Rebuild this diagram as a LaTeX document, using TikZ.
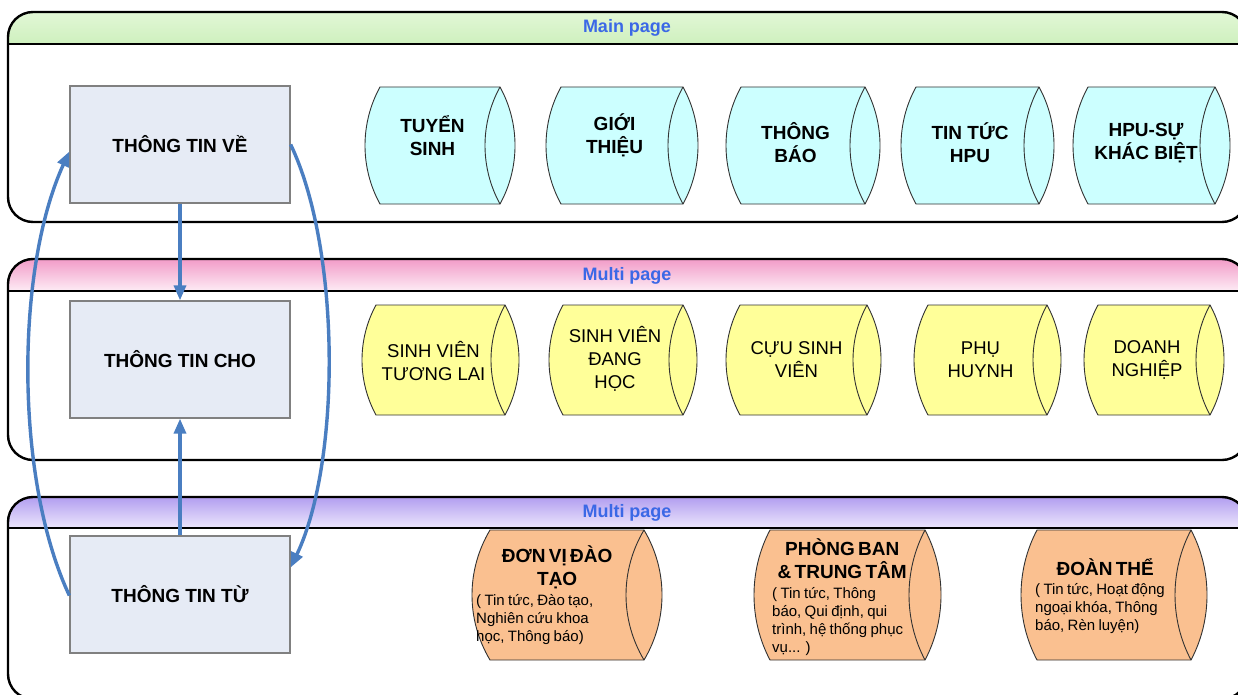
\documentclass[tikz,border=0pt]{standalone}
\usepackage{fontspec}
\setmainfont{Liberation Sans}
\usetikzlibrary{arrows.meta}
\definecolor{arrowblue}{RGB}{74,126,193}
\definecolor{hdrblue}{RGB}{59,104,230}
\definecolor{boxfill}{RGB}{230,235,245}
\definecolor{boxline}{RGB}{128,128,128}
\definecolor{cyanfill}{RGB}{204,255,255}
\definecolor{yelfill}{RGB}{255,255,153}
\definecolor{orfill}{RGB}{250,192,144}
\definecolor{cylgray}{RGB}{50,50,50}
\definecolor{greentop}{RGB}{226,247,214}
\definecolor{greenbot}{RGB}{206,240,190}
\definecolor{pinktop}{RGB}{242,156,200}
\definecolor{pinkbot}{RGB}{253,236,245}
\definecolor{purptop}{RGB}{178,158,240}
\definecolor{purpbot}{RGB}{236,230,252}
\newcommand\ttlfont{\bfseries\fontsize{19}{23}\selectfont}
\newcommand\dscfont{\fontsize{15}{18}\selectfont}
% horizontal cylinder with lens-shaped ends: L R T B r fill
\newcommand\hcyl[6]{%
  \filldraw[cylline, fill=#6] (#1,-#3) -- (#2,-#3)
    .. controls ({#2+4*#5/3},{-(#3+0.31*(#4-#3))}) and ({#2+4*#5/3},{-(#4-0.31*(#4-#3))}) .. (#2,-#4)
    -- (#1,-#4)
    .. controls ({#1-4*#5/3},{-(#4-0.31*(#4-#3))}) and ({#1-4*#5/3},{-(#3+0.31*(#4-#3))}) .. (#1,-#3) -- cycle;
  \draw[cylline] (#2,-#3)
    .. controls ({#2-4*#5/3},{-(#3+0.31*(#4-#3))}) and ({#2-4*#5/3},{-(#4-0.31*(#4-#3))}) .. (#2,-#4);
}
% panel: top, header line, bottom, top colour, bottom colour
\newcommand\panelbox[5]{%
  \begin{scope}
    \clip[rounded corners=25pt] (8,-#1) rectangle (1247,-#3);
    \shade[top color=#4, bottom color=#5] (8,-#1) rectangle (1247,-#2);
  \end{scope}
  \draw[panelline, rounded corners=25pt] (8,-#1) rectangle (1247,-#3);
  \draw[panelline] (8,-#2) -- (1247,-#2);
}
\tikzset{
  panelline/.style={line width=2.4pt, draw=black},
  hdr/.style={text=hdrblue, font=\bfseries\fontsize{18}{20}\selectfont, inner sep=0pt},
  infobox/.style={draw=boxline, line width=1.3pt, fill=boxfill, minimum width=220pt,
    minimum height=117pt, inner sep=0pt, font=\bfseries\fontsize{19}{23}\selectfont},
  cylline/.style={draw=cylgray, line width=0.9pt},
  ttop/.style={align=center, inner sep=0pt, font=\bfseries\fontsize{19}{23}\selectfont},
  tmid/.style={align=center, inner sep=0pt, font=\fontsize{18.5}{23}\selectfont},
  tbot/.style={anchor=base west, inner sep=0pt, text width=#1},
  conn/.style={draw=arrowblue, line width=3.4pt, -{Triangle[length=15pt,width=12pt]}},
}
\begin{document}
\begin{tikzpicture}[x=1pt,y=1pt]
\useasboundingbox (0,0) rectangle (1238,-695);
\fill[white] (0,0) rectangle (1238,-695);

% panels
\panelbox{12}{44}{222}{greentop}{greenbot}
\panelbox{259}{291}{460}{pinktop}{pinkbot}
\panelbox{497}{528}{699}{purptop}{purpbot}
\node[hdr] (h1) at (627,-28) {Main page};
\node[hdr] (h2) at (627,-276) {Multi page};
\node[hdr] (h3) at (627,-513) {Multi page};

% row 1 cylinders
\hcyl{380}{500}{87}{204}{15}{cyanfill}
\hcyl{561}{683}{87}{204}{15}{cyanfill}
\hcyl{741}{865}{87}{204}{15}{cyanfill}
\hcyl{916}{1039}{87}{204}{15}{cyanfill}
\hcyl{1088}{1215}{87}{204}{15}{cyanfill}
\node[ttop] (ts) at (432.5,-135.5) {TUYỂN\\SINH};
\node[ttop] (gt) at (614.5,-135.5) {GIỚI\\THIỆU};
\node[ttop] (tb) at (795.5,-143) {THÔNG\\BÁO};
\node[ttop] (tt) at (970,-143) {TIN TỨC\\HPU};
\node[ttop] (kb) at (1146,-143) {HPU-SỰ\\KHÁC BIỆT};

% row 2 cylinders
\hcyl{376}{505}{305}{415}{14}{yelfill}
\hcyl{563}{683}{305}{415}{14}{yelfill}
\hcyl{740}{867}{305}{415}{14}{yelfill}
\hcyl{928}{1047}{305}{415}{14}{yelfill}
\hcyl{1098}{1210}{305}{415}{14}{yelfill}
\node[tmid] (svtl) at (433.5,-361) {SINH VIÊN\\TƯƠNG LAI};
\node[tmid] (svdh) at (615,-359) {SINH VIÊN\\ĐANG\\HỌC};
\node[tmid] (csv) at (796.5,-360) {CỰU SINH\\VIÊN};
\node[tmid] (ph) at (980.5,-360) {PHỤ\\HUYNH};
\node[tmid] (dn) at (1147,-360) {DOANH\\NGHIỆP};

% row 3 cylinders
\hcyl{490}{644}{530}{660}{18}{orfill}
\hcyl{770}{925}{530}{660}{16}{orfill}
\hcyl{1037}{1191}{530}{660}{16}{orfill}
\node[tbot=162pt] (dvdt) at (476,-562) {{\centering\ttlfont ĐƠN VỊ ĐÀO\\TẠO\par}\vspace{2pt}{\raggedright\dscfont ( Tin tức, Đào tạo,\\Nghiên cứu khoa\\học, Thông báo)\par}};
\node[tbot=140pt] (pbtt) at (772,-555) {{\centering\ttlfont PHÒNG BAN\\\&~TRUNG TÂM\par}\vspace{2pt}{\raggedright\dscfont ( Tin tức, Thông\\báo, Qui định, qui\\trình, hệ thống phục\\vụ... )\par}};
\node[tbot=140pt] (dt) at (1035,-575) {{\centering\ttlfont ĐOÀN THỂ\par}\vspace{1pt}{\raggedright\dscfont ( Tin tức, Hoạt động\\ngoại khóa, Thông\\báo, Rèn luyện)\par}};

% left boxes
\node[infobox] (tve) at (180,-144.5) {THÔNG TIN VỀ};
\node[infobox] (tcho) at (180,-359.5) {THÔNG TIN CHO};
\node[infobox] (ttu) at (180,-594.5) {THÔNG TIN TỪ};

% connectors
\draw[conn] (tve.south) -- (tcho.north);
\draw[conn] (ttu.north) -- (tcho.south);
\draw[conn] ([yshift=-1pt]ttu.west) .. controls (15,-480) and (15,-270) .. ([yshift=-7pt]tve.west);
\draw[conn] (tve.east) .. controls (341,-250) and (341,-462) .. ([yshift=27pt]ttu.east);
\end{tikzpicture}
\end{document}
